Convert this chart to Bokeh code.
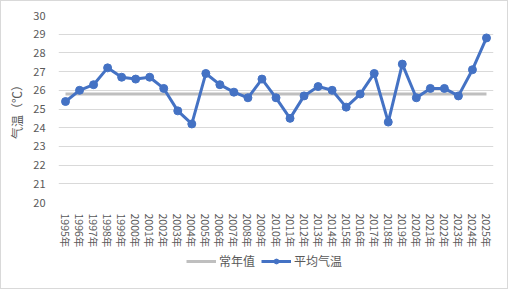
from bokeh.plotting import figure
from bokeh.layouts import column
from bokeh.models import FactorRange, Range1d, Legend, LegendItem, SingleIntervalTicker, ColumnDataSource
from bokeh.embed import file_html
from bokeh.resources import INLINE

years = [f"{y}年" for y in range(1995, 2026)]
avg_temp = [25.4, 26.0, 26.3, 27.2, 26.7, 26.6, 26.7, 26.1, 24.9, 24.2,
            26.9, 26.3, 25.9, 25.6, 26.6, 25.6, 24.5, 25.7, 26.2, 26.0,
            25.1, 25.8, 26.9, 24.3, 27.4, 25.6, 26.1, 26.1, 25.7, 27.1, 28.8]
normal = [25.8] * len(years)
y_title = "气温（℃）"
name_normal = "常年值"
name_avg = "平均气温"

FONT = "Noto Sans CJK SC"
TXT = "#595959"
BLUE = "#4472C4"
GRAY = "#BFBFBF"

p = figure(width=506, height=250, x_range=FactorRange(*years), y_range=Range1d(20, 30),
           output_backend="svg", toolbar_location=None,
           min_border_left=57, min_border_right=14, min_border_top=14, min_border_bottom=49)
p.outline_line_color = None
p.background_fill_color = "white"
p.border_fill_color = "white"

src = ColumnDataSource(dict(x=years, avg=avg_temp, normal=normal))
p.line("x", "normal", source=src, line_color=GRAY, line_width=3)
p.line("x", "avg", source=src, line_color=BLUE, line_width=3)
p.scatter("x", "avg", source=src, size=8, fill_color=BLUE, line_color=BLUE)

p.yaxis.ticker = SingleIntervalTicker(interval=1)
p.ygrid.grid_line_color = "#D9D9D9"
p.xgrid.grid_line_color = None
for ax in (p.xaxis, p.yaxis):
    ax.axis_line_color = None
    ax.major_tick_line_color = None
    ax.minor_tick_line_color = None
    ax.major_label_text_font = FONT
    ax.major_label_text_color = TXT
p.yaxis.major_label_text_font_size = "11px"
p.yaxis.major_label_standoff = 7
p.yaxis.axis_label = y_title
p.yaxis.axis_label_text_font = FONT
p.yaxis.axis_label_text_font_style = "normal"
p.yaxis.axis_label_text_font_size = "12px"
p.yaxis.axis_label_text_color = TXT
p.yaxis.axis_label_standoff = 5
p.xaxis.major_label_orientation = "vertical"
p.xaxis.major_label_text_font_size = "10.5px"
p.xaxis.major_label_standoff = 5

# legend strip (its renderers hold points outside the visible range)
q = figure(width=506, height=37, x_range=Range1d(0, 1), y_range=Range1d(0, 1),
           x_axis_type=None, y_axis_type=None, output_backend="svg", toolbar_location=None,
           min_border_left=0, min_border_right=0, min_border_top=0, min_border_bottom=0)
q.outline_line_color = None
q.grid.visible = False
q.border_fill_color = "white"
q.background_fill_color = "white"
hidden = ColumnDataSource(dict(x=[5, 6], y=[5, 6]))
l_norm = q.line("x", "y", source=hidden, line_color=GRAY, line_width=3)
l_avg = q.line("x", "y", source=hidden, line_color=BLUE, line_width=3)
l_pts = q.scatter("x", "y", source=hidden, size=8, fill_color=BLUE, line_color=BLUE)

legend = Legend(items=[LegendItem(label=name_normal, renderers=[l_norm]),
                       LegendItem(label=name_avg, renderers=[l_avg, l_pts])],
                orientation="horizontal", location=(128, 19),
                label_text_font=FONT, label_text_font_size="12px", label_text_color=TXT,
                label_height=14, glyph_width=30, glyph_height=12, label_standoff=3, spacing=6,
                padding=0, margin=0, border_line_color=None, background_fill_alpha=0)
q.add_layout(legend, "center")

layout = column(p, q, spacing=0)
layout.styles = {"border": "1px solid #D9D9D9"}

open("out.html", "w").write(file_html(layout, INLINE))
